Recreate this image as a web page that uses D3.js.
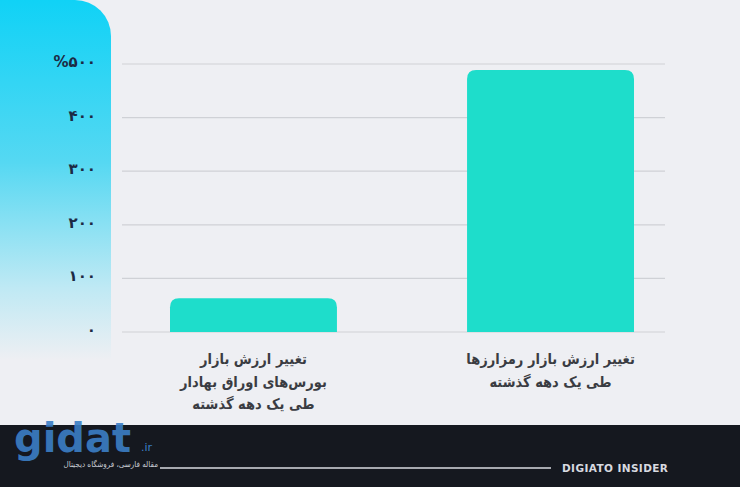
<!DOCTYPE html>
<html><head><meta charset="utf-8">
<script src="https://cdn.jsdelivr.net/npm/d3@7"></script>
<style>html,body{margin:0;padding:0;background:#eeeff3;}svg{display:block;}</style>
</head><body>
<svg id="chart" width="740" height="487"></svg>
<script>
const categories = [
  ["تغییر ارزش بازار", "بورس‌های اوراق بهادار", "طی یک دهه گذشته"],
  ["تغییر ارزش بازار رمزارزها", "طی یک دهه گذشته"]
];
const values = [63, 489];
const tickValues = [0, 100, 200, 300, 400, 500];
const tickLabels = ["۰", "۱۰۰", "۲۰۰", "۳۰۰", "۴۰۰", "%۵۰۰"];

const svg = d3.select("#chart");
const W = 740, H = 487;
svg.append("rect").attr("width", W).attr("height", H).attr("fill", "#eeeff3");

const defs = svg.append("defs");
const g1 = defs.append("linearGradient").attr("id", "panelGrad").attr("x1", 0).attr("y1", 0).attr("x2", 0).attr("y2", 1);
g1.append("stop").attr("offset", "0%").attr("stop-color", "#10d2f6");
g1.append("stop").attr("offset", "45%").attr("stop-color", "#55d8f2");
g1.append("stop").attr("offset", "80%").attr("stop-color", "#bfe9f4");
g1.append("stop").attr("offset", "100%").attr("stop-color", "#eeeff3");

// left panel with rounded top-right corner
const pw = 111, ph = 360, r = 36;
svg.append("path")
  .attr("d", `M0,0 H${pw - r} A${r},${r} 0 0 1 ${pw},${r} V${ph} H0 Z`)
  .attr("fill", "url(#panelGrad)");

const y = d3.scaleLinear().domain([0, 500]).range([332, 64]);
const x = d3.scaleBand().domain(d3.range(categories.length)).range([122, 682])
  .paddingInner(0.438).paddingOuter(0.1616);

// gridlines
svg.append("g").selectAll("line").data(tickValues).join("line")
  .attr("x1", 122).attr("x2", 665)
  .attr("y1", d => y(d)).attr("y2", d => y(d))
  .attr("stroke", "#cfd1d6").attr("stroke-width", 1.2);

// y axis labels
svg.append("g").selectAll("text").data(tickValues).join("text")
  .attr("x", 96).attr("y", d => y(d))
  .attr("dy", "0.2em")
  .attr("text-anchor", "end")
  .attr("font-family", "DejaVu Sans, sans-serif")
  .attr("font-weight", "bold")
  .attr("font-size", 15)
  .attr("fill", "#1c2a44")
  .text((d, i) => tickLabels[i]);

// bars with rounded tops
const br = 9;
svg.append("g").selectAll("path").data(values).join("path")
  .attr("d", (d, i) => {
    const x0 = x(i), w = x.bandwidth(), y0 = y(d), yb = y(0);
    return `M${x0},${yb} V${y0 + br} Q${x0},${y0} ${x0 + br},${y0} H${x0 + w - br} Q${x0 + w},${y0} ${x0 + w},${y0 + br} V${yb} Z`;
  })
  .attr("fill", "#1eddcb");

// category labels
const lab = svg.append("g");
categories.forEach((lines, i) => {
  const cx = x(i) + x.bandwidth() / 2;
  lines.forEach((t, j) => {
    lab.append("text")
      .attr("x", cx).attr("y", 364 + j * 22.5)
      .attr("text-anchor", "middle")
      .attr("direction", "rtl")
      .attr("font-family", "DejaVu Sans Condensed, DejaVu Sans, sans-serif")
      .attr("font-size", 14.5)
      .attr("font-weight", "bold")
      .attr("fill", "#3a3c42")
      .text(t);
  });
});

// footer
svg.append("rect").attr("x", 0).attr("y", 425).attr("width", W).attr("height", H - 425).attr("fill", "#15181f");
svg.append("line").attr("x1", 160).attr("x2", 551).attr("y1", 468).attr("y2", 468)
  .attr("stroke", "#d8dae0").attr("stroke-width", 1.5);
svg.append("text").attr("x", 562).attr("y", 472)
  .attr("font-family", "DejaVu Sans, sans-serif").attr("font-size", 10.5).attr("font-weight", "bold")
  .attr("letter-spacing", 0.4)
  .attr("fill", "#d8dae0").text("DIGIATO INSIDER");

// watermark logo
svg.append("text").attr("x", 14).attr("y", 452)
  .attr("font-family", "DejaVu Sans, sans-serif").attr("font-size", 40).attr("font-weight", "bold")
  .attr("fill", "#3b7fc6").attr("opacity", 0.9).text("gidat");
svg.append("text").attr("x", 141).attr("y", 451)
  .attr("font-family", "DejaVu Sans, sans-serif").attr("font-size", 11)
  .attr("fill", "#3b7fc6").text(".ir");
svg.append("text").attr("x", 158).attr("y", 467).attr("text-anchor", "end")
  .attr("font-family", "DejaVu Sans Condensed, DejaVu Sans, sans-serif").attr("font-size", 8)
  .attr("fill", "#c8ccd4").text("مقاله فارسی، فروشگاه دیجیتال");
</script>
</body></html>
